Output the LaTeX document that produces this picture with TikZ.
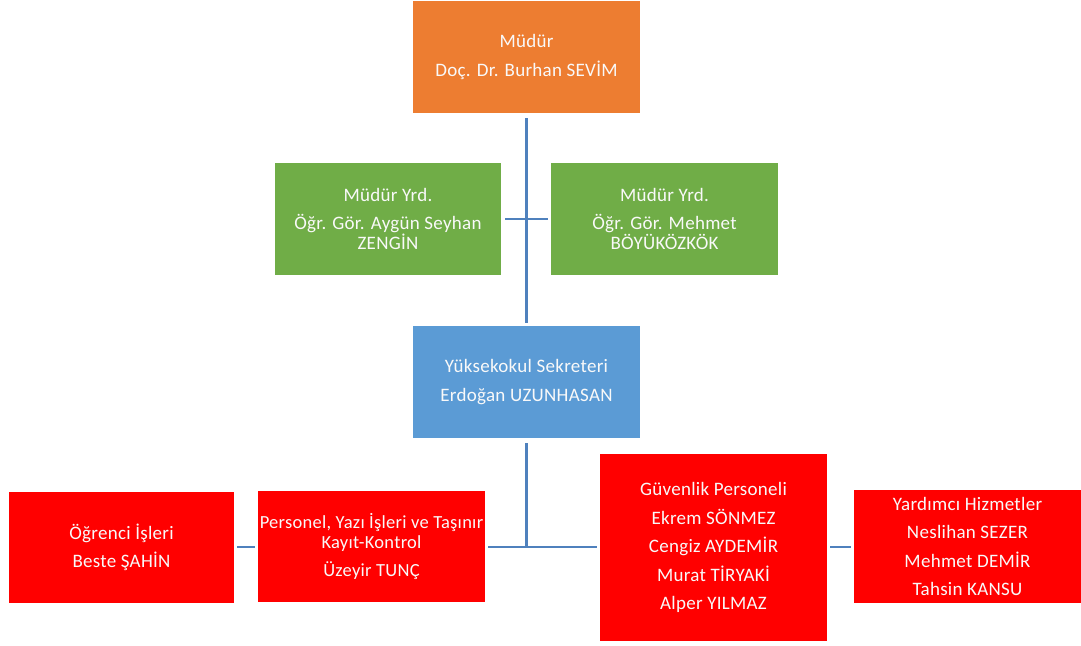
\documentclass[tikz,border=0pt]{standalone}
\usepackage{fontspec}
\setmainfont{Carlito}[LetterSpace=1.5]
\definecolor{orgbox}{HTML}{ED7D31}
\definecolor{grnbox}{HTML}{70AD47}
\definecolor{blubox}{HTML}{5B9BD5}
\definecolor{redbox}{HTML}{FF0000}
\definecolor{conn}{HTML}{4F81BD}
\tikzset{
  box/.style={draw=none, inner sep=0pt, align=center, text=white!95!gray,
    font=\fontsize{19}{20}\selectfont},
  link/.style={draw=conn, line width=2.6pt}
}
\begin{document}
\begin{tikzpicture}[x=1pt,y=-1pt]
\useasboundingbox (0,0) rectangle (1081,645);
\node[box, fill=orgbox, minimum width=227pt, minimum height=112pt] (mud) at (526.5,57)
  {Müdür\\[8.5pt]Doç. Dr. Burhan SEVİM};
\node[box, fill=grnbox, minimum width=226pt, minimum height=112pt] (yl) at (388,219)
  {Müdür Yrd.\\[8.5pt]Öğr. Gör. Aygün Seyhan\\ZENGİN};
\node[box, fill=grnbox, minimum width=227pt, minimum height=112pt] (yr) at (664.5,219)
  {Müdür Yrd.\\[8.5pt]Öğr. Gör. Mehmet\\BÖYÜKÖZKÖK};
\node[box, fill=blubox, minimum width=227pt, minimum height=112pt] (sek) at (526.5,382)
  {Yüksekokul Sekreteri\\[8.5pt]Erdoğan UZUNHASAN};
\node[box, fill=redbox, minimum width=225pt, minimum height=111pt] (ogr) at (121.5,547.5)
  {Öğrenci İşleri\\[8.5pt]Beste ŞAHİN};
\node[box, fill=redbox, minimum width=227pt, minimum height=111pt, font=\fontsize{18.5}{20}\selectfont] (per) at (371.5,546.5)
  {Personel, Yazı İşleri ve Taşınır\\Kayıt-Kontrol\\[8.5pt]Üzeyir TUNÇ};
\node[box, fill=redbox, minimum width=227pt, minimum height=187pt] (guv) at (713.5,547.5)
  {Güvenlik Personeli\\[8.5pt]Ekrem SÖNMEZ\\[8.5pt]Cengiz AYDEMİR\\[8.5pt]Murat TİRYAKİ\\[8.5pt]Alper YILMAZ};
\node[box, fill=redbox, minimum width=227pt, minimum height=113pt] (yar) at (967.5,546.5)
  {Yardımcı Hizmetler\\[8.5pt]Neslihan SEZER\\[8.5pt]Mehmet DEMİR\\[8.5pt]Tahsin KANSU};
\coordinate (j) at (526.5,547);
\draw[link, shorten <=5pt, shorten >=3pt] (mud.south) -- (sek.north);
\draw[link, shorten <=4pt, shorten >=3pt] (yl.east) -- (yr.west);
\draw[link, shorten <=5pt] (sek.south) -- (j);
\draw[link, shorten <=3pt, shorten >=3pt] (per.east |- j) -- (guv.west |- j);
\draw[link, shorten <=3pt, shorten >=3pt] (ogr.east |- j) -- (per.west |- j);
\draw[link, shorten <=3pt, shorten >=3pt] (guv.east |- j) -- (yar.west |- j);
\end{tikzpicture}
\end{document}
